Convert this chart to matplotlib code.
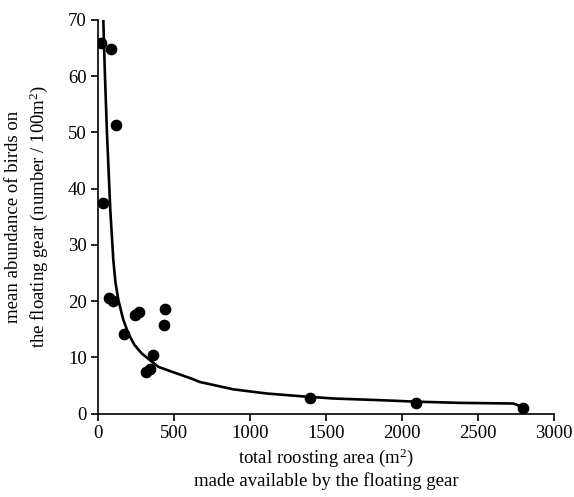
import matplotlib
matplotlib.use("Agg")
import matplotlib.pyplot as plt

# observed roosting area (m2) vs mean abundance of birds
area = [20, 88, 116, 35, 70, 101, 173, 243, 272, 443, 436, 360, 314, 342, 1395, 2094, 2798]
abundance = [65.8, 64.9, 51.3, 37.4, 20.5, 20.0, 14.2, 17.5, 18.0, 18.5, 15.7, 10.4, 7.4, 7.9, 2.7, 1.8, 0.9]

# fitted curve
curve_x = [35, 46, 59, 81, 101, 115, 134, 165, 200, 240, 287, 397, 500, 616, 671, 890, 1110, 1329, 1548, 1855, 2100, 2382, 2732, 2790]
curve_y = [70, 60, 50, 36.2, 27.3, 23.3, 20.2, 16.8, 14.2, 12.2, 10.7, 8.3, 7.3, 6.2, 5.6, 4.3, 3.56, 3.08, 2.67, 2.37, 2.1, 1.89, 1.78, 1.2]

plt.rcParams["font.family"] = ["Liberation Serif", "DejaVu Serif"]
plt.rcParams["mathtext.fontset"] = "custom"
plt.rcParams["mathtext.rm"] = "Liberation Serif"
plt.rcParams["font.size"] = 13.5

fig = plt.figure(figsize=(5.74, 4.97), dpi=100)
ax = fig.add_axes([0.1707, 0.168, 0.7943, 0.792])

ax.plot(curve_x, curve_y, color="black", lw=1.9, zorder=2)
ax.scatter(area, abundance, s=55, color="black", zorder=3)

ax.set_xlim(0, 3000)
ax.set_ylim(0, 70)
ax.set_xticks(range(0, 3001, 500))
ax.set_yticks(range(0, 71, 10))
ax.spines["top"].set_visible(False)
ax.spines["right"].set_visible(False)
for s in ["left", "bottom"]:
    ax.spines[s].set_linewidth(1.2)
ax.tick_params(direction="out", length=5, width=1.2, labelsize=13.5, colors="black", pad=3)

ax.set_xlabel("total roosting area (m$\\mathrm{^2}$)\nmade available by the floating gear",
              fontsize=13.5, linespacing=1.2, va="center")
ax.set_ylabel("mean abundance of birds on\nthe floating gear (number / 100m$\\mathrm{^2}$)",
              fontsize=13.5, linespacing=1.35, va="center")
ax.xaxis.set_label_coords(0.5, -0.139, transform=ax.transAxes)
ax.yaxis.set_label_coords(-0.155, 0.5, transform=ax.transAxes)

fig.savefig("out.png", dpi=100)
